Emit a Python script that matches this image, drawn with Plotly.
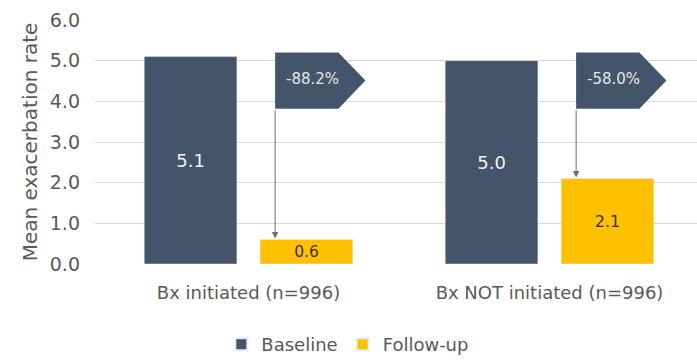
import plotly.graph_objects as go

# Data
categories = ["Bx initiated (n=996)", "Bx NOT initiated (n=996)"]
baseline = [5.1, 5.0]
follow_up = [0.6, 2.1]
y_ticks = [0.0, 1.0, 2.0, 3.0, 4.0, 5.0, 6.0]

NAVY = "#44546A"
GOLD = "#FFC000"
GREY_TEXT = "#595959"
FONT = "DejaVu Sans"

x_pos = list(range(len(categories)))

fig = go.Figure()
fig.add_trace(go.Bar(
    name="Baseline", x=x_pos, y=baseline, marker_color=NAVY,
    text=[f"{v:.1f}" for v in baseline], textposition="inside",
    insidetextanchor="middle", textangle=0,
    textfont=dict(color="#F2F2F2", size=18, family=FONT),
))
fig.add_trace(go.Bar(
    name="Follow-up", x=x_pos, y=follow_up, marker_color=GOLD,
    text=[f"{v:.1f}" for v in follow_up], textposition="inside",
    insidetextanchor="middle", textangle=0,
    textfont=dict(color="#3A3226", size=16, family=FONT),
))

# Grouped bar geometry (used to place the change call-outs)
bargap, bargroupgap = 0.23, 0.2
slot = (1 - bargap) / 2
bar_w = slot * (1 - bargroupgap)

callout_top, callout_bot = 5.2, 3.82
box_w, tip_w = 0.21, 0.09
shapes, annotations = [], []
for i, (b, f) in enumerate(zip(baseline, follow_up)):
    fu_center = i + slot / 2
    x0 = fu_center - bar_w / 2 + 0.05
    x1 = x0 + box_w
    xt = x1 + tip_w
    ym = (callout_top + callout_bot) / 2
    shapes.append(dict(
        type="path", xref="x", yref="y",
        path=f"M {x0},{callout_bot} L {x0},{callout_top} L {x1},{callout_top} "
             f"L {xt},{ym} L {x1},{callout_bot} Z",
        fillcolor=NAVY, line=dict(width=0), layer="above",
    ))
    change = (f - b) / b * 100
    annotations.append(dict(
        x=(x0 + xt) / 2 - 0.025, y=ym + 0.05, xref="x", yref="y",
        text=f"{change:.1f}%", showarrow=False,
        font=dict(color="#E6E6E6", size=15, family=FONT),
    ))
    annotations.append(dict(
        x=x0, y=f, xref="x", yref="y",
        ax=x0, ay=callout_bot, axref="x", ayref="y",
        text="", showarrow=True, arrowhead=2, arrowsize=1.3,
        arrowwidth=1, arrowcolor="#6E6E6E", standoff=1,
    ))

fig.update_layout(
    width=697, height=363,
    margin=dict(l=95, r=0, t=20, b=95),
    paper_bgcolor="white", plot_bgcolor="white",
    barmode="group", bargap=bargap, bargroupgap=bargroupgap,
    font=dict(family=FONT, color=GREY_TEXT, size=18),
    shapes=shapes, annotations=annotations,
    showlegend=True,
    legend=dict(
        orientation="h", x=0.42, xanchor="center", y=-0.33, yanchor="middle",
        font=dict(size=18, color=GREY_TEXT, family=FONT),
        itemsizing="constant",
    ),
)
fig.update_xaxes(
    range=[-0.51, 1.49], tickmode="array", tickvals=x_pos, ticktext=categories,
    showgrid=False, zeroline=False, showline=False, ticks="",
    ticklabelstandoff=16, tickfont=dict(size=18),
)
fig.update_yaxes(
    range=[0, 6], tickmode="array", tickvals=y_ticks,
    ticktext=[f"{v:.1f}" for v in y_ticks],
    showgrid=True, gridcolor="#D9D9D9", gridwidth=1, zeroline=False,
    showline=False, ticks="", ticklabelstandoff=14, tickfont=dict(size=19),
    title=dict(text="Mean exacerbation rate", font=dict(size=20), standoff=6),
)

fig.write_html("out.html")
